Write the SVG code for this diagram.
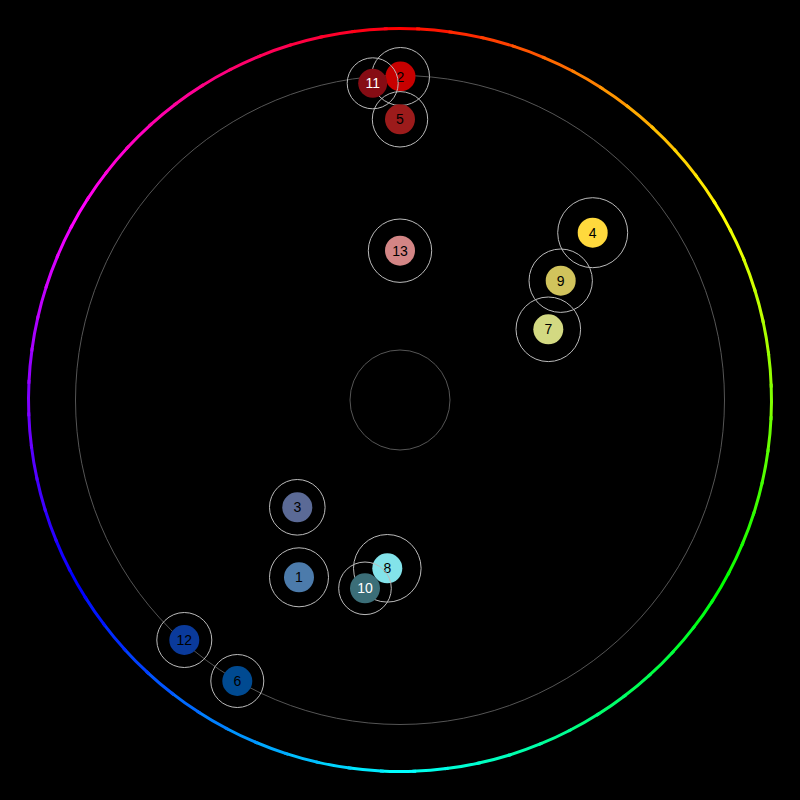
<svg xmlns="http://www.w3.org/2000/svg" width="800" height="800" viewBox="0 0 800 800">
<style>
.seg{fill:none;stroke-width:3}
.ring{fill:none;stroke:#555;stroke-width:1}
.halo{fill:none;stroke:#bbb;stroke-width:1}
.lbl{font-family:"Liberation Sans",Arial,sans-serif;font-size:14px;text-anchor:middle;dominant-baseline:central;fill:#000}
.lw{fill:#fff}
</style>
<rect width="800" height="800" fill="#000"/>
<g id="hue-ring">
<circle class="seg" cx="400" cy="400" r="371.5" pathLength="360" stroke-dasharray="5.6 354.4" transform="rotate(-92.5 400 400)" stroke="hsl(0,100%,50%)"/>
<circle class="seg" cx="400" cy="400" r="371.5" pathLength="360" stroke-dasharray="5.6 354.4" transform="rotate(-87.5 400 400)" stroke="hsl(5,100%,50%)"/>
<circle class="seg" cx="400" cy="400" r="371.5" pathLength="360" stroke-dasharray="5.6 354.4" transform="rotate(-82.5 400 400)" stroke="hsl(10,100%,50%)"/>
<circle class="seg" cx="400" cy="400" r="371.5" pathLength="360" stroke-dasharray="5.6 354.4" transform="rotate(-77.5 400 400)" stroke="hsl(15,100%,50%)"/>
<circle class="seg" cx="400" cy="400" r="371.5" pathLength="360" stroke-dasharray="5.6 354.4" transform="rotate(-72.5 400 400)" stroke="hsl(20,100%,50%)"/>
<circle class="seg" cx="400" cy="400" r="371.5" pathLength="360" stroke-dasharray="5.6 354.4" transform="rotate(-67.5 400 400)" stroke="hsl(25,100%,50%)"/>
<circle class="seg" cx="400" cy="400" r="371.5" pathLength="360" stroke-dasharray="5.6 354.4" transform="rotate(-62.5 400 400)" stroke="hsl(30,100%,50%)"/>
<circle class="seg" cx="400" cy="400" r="371.5" pathLength="360" stroke-dasharray="5.6 354.4" transform="rotate(-57.5 400 400)" stroke="hsl(35,100%,50%)"/>
<circle class="seg" cx="400" cy="400" r="371.5" pathLength="360" stroke-dasharray="5.6 354.4" transform="rotate(-52.5 400 400)" stroke="hsl(40,100%,50%)"/>
<circle class="seg" cx="400" cy="400" r="371.5" pathLength="360" stroke-dasharray="5.6 354.4" transform="rotate(-47.5 400 400)" stroke="hsl(45,100%,50%)"/>
<circle class="seg" cx="400" cy="400" r="371.5" pathLength="360" stroke-dasharray="5.6 354.4" transform="rotate(-42.5 400 400)" stroke="hsl(50,100%,50%)"/>
<circle class="seg" cx="400" cy="400" r="371.5" pathLength="360" stroke-dasharray="5.6 354.4" transform="rotate(-37.5 400 400)" stroke="hsl(55,100%,50%)"/>
<circle class="seg" cx="400" cy="400" r="371.5" pathLength="360" stroke-dasharray="5.6 354.4" transform="rotate(-32.5 400 400)" stroke="hsl(60,100%,50%)"/>
<circle class="seg" cx="400" cy="400" r="371.5" pathLength="360" stroke-dasharray="5.6 354.4" transform="rotate(-27.5 400 400)" stroke="hsl(65,100%,50%)"/>
<circle class="seg" cx="400" cy="400" r="371.5" pathLength="360" stroke-dasharray="5.6 354.4" transform="rotate(-22.5 400 400)" stroke="hsl(70,100%,50%)"/>
<circle class="seg" cx="400" cy="400" r="371.5" pathLength="360" stroke-dasharray="5.6 354.4" transform="rotate(-17.5 400 400)" stroke="hsl(75,100%,50%)"/>
<circle class="seg" cx="400" cy="400" r="371.5" pathLength="360" stroke-dasharray="5.6 354.4" transform="rotate(-12.5 400 400)" stroke="hsl(80,100%,50%)"/>
<circle class="seg" cx="400" cy="400" r="371.5" pathLength="360" stroke-dasharray="5.6 354.4" transform="rotate(-7.5 400 400)" stroke="hsl(85,100%,50%)"/>
<circle class="seg" cx="400" cy="400" r="371.5" pathLength="360" stroke-dasharray="5.6 354.4" transform="rotate(-2.5 400 400)" stroke="hsl(90,100%,50%)"/>
<circle class="seg" cx="400" cy="400" r="371.5" pathLength="360" stroke-dasharray="5.6 354.4" transform="rotate(2.5 400 400)" stroke="hsl(95,100%,50%)"/>
<circle class="seg" cx="400" cy="400" r="371.5" pathLength="360" stroke-dasharray="5.6 354.4" transform="rotate(7.5 400 400)" stroke="hsl(100,100%,50%)"/>
<circle class="seg" cx="400" cy="400" r="371.5" pathLength="360" stroke-dasharray="5.6 354.4" transform="rotate(12.5 400 400)" stroke="hsl(105,100%,50%)"/>
<circle class="seg" cx="400" cy="400" r="371.5" pathLength="360" stroke-dasharray="5.6 354.4" transform="rotate(17.5 400 400)" stroke="hsl(110,100%,50%)"/>
<circle class="seg" cx="400" cy="400" r="371.5" pathLength="360" stroke-dasharray="5.6 354.4" transform="rotate(22.5 400 400)" stroke="hsl(115,100%,50%)"/>
<circle class="seg" cx="400" cy="400" r="371.5" pathLength="360" stroke-dasharray="5.6 354.4" transform="rotate(27.5 400 400)" stroke="hsl(120,100%,50%)"/>
<circle class="seg" cx="400" cy="400" r="371.5" pathLength="360" stroke-dasharray="5.6 354.4" transform="rotate(32.5 400 400)" stroke="hsl(125,100%,50%)"/>
<circle class="seg" cx="400" cy="400" r="371.5" pathLength="360" stroke-dasharray="5.6 354.4" transform="rotate(37.5 400 400)" stroke="hsl(130,100%,50%)"/>
<circle class="seg" cx="400" cy="400" r="371.5" pathLength="360" stroke-dasharray="5.6 354.4" transform="rotate(42.5 400 400)" stroke="hsl(135,100%,50%)"/>
<circle class="seg" cx="400" cy="400" r="371.5" pathLength="360" stroke-dasharray="5.6 354.4" transform="rotate(47.5 400 400)" stroke="hsl(140,100%,50%)"/>
<circle class="seg" cx="400" cy="400" r="371.5" pathLength="360" stroke-dasharray="5.6 354.4" transform="rotate(52.5 400 400)" stroke="hsl(145,100%,50%)"/>
<circle class="seg" cx="400" cy="400" r="371.5" pathLength="360" stroke-dasharray="5.6 354.4" transform="rotate(57.5 400 400)" stroke="hsl(150,100%,50%)"/>
<circle class="seg" cx="400" cy="400" r="371.5" pathLength="360" stroke-dasharray="5.6 354.4" transform="rotate(62.5 400 400)" stroke="hsl(155,100%,50%)"/>
<circle class="seg" cx="400" cy="400" r="371.5" pathLength="360" stroke-dasharray="5.6 354.4" transform="rotate(67.5 400 400)" stroke="hsl(160,100%,50%)"/>
<circle class="seg" cx="400" cy="400" r="371.5" pathLength="360" stroke-dasharray="5.6 354.4" transform="rotate(72.5 400 400)" stroke="hsl(165,100%,50%)"/>
<circle class="seg" cx="400" cy="400" r="371.5" pathLength="360" stroke-dasharray="5.6 354.4" transform="rotate(77.5 400 400)" stroke="hsl(170,100%,50%)"/>
<circle class="seg" cx="400" cy="400" r="371.5" pathLength="360" stroke-dasharray="5.6 354.4" transform="rotate(82.5 400 400)" stroke="hsl(175,100%,50%)"/>
<circle class="seg" cx="400" cy="400" r="371.5" pathLength="360" stroke-dasharray="5.6 354.4" transform="rotate(87.5 400 400)" stroke="hsl(180,100%,50%)"/>
<circle class="seg" cx="400" cy="400" r="371.5" pathLength="360" stroke-dasharray="5.6 354.4" transform="rotate(92.5 400 400)" stroke="hsl(185,100%,50%)"/>
<circle class="seg" cx="400" cy="400" r="371.5" pathLength="360" stroke-dasharray="5.6 354.4" transform="rotate(97.5 400 400)" stroke="hsl(190,100%,50%)"/>
<circle class="seg" cx="400" cy="400" r="371.5" pathLength="360" stroke-dasharray="5.6 354.4" transform="rotate(102.5 400 400)" stroke="hsl(195,100%,50%)"/>
<circle class="seg" cx="400" cy="400" r="371.5" pathLength="360" stroke-dasharray="5.6 354.4" transform="rotate(107.5 400 400)" stroke="hsl(200,100%,50%)"/>
<circle class="seg" cx="400" cy="400" r="371.5" pathLength="360" stroke-dasharray="5.6 354.4" transform="rotate(112.5 400 400)" stroke="hsl(205,100%,50%)"/>
<circle class="seg" cx="400" cy="400" r="371.5" pathLength="360" stroke-dasharray="5.6 354.4" transform="rotate(117.5 400 400)" stroke="hsl(210,100%,50%)"/>
<circle class="seg" cx="400" cy="400" r="371.5" pathLength="360" stroke-dasharray="5.6 354.4" transform="rotate(122.5 400 400)" stroke="hsl(215,100%,50%)"/>
<circle class="seg" cx="400" cy="400" r="371.5" pathLength="360" stroke-dasharray="5.6 354.4" transform="rotate(127.5 400 400)" stroke="hsl(220,100%,50%)"/>
<circle class="seg" cx="400" cy="400" r="371.5" pathLength="360" stroke-dasharray="5.6 354.4" transform="rotate(132.5 400 400)" stroke="hsl(225,100%,50%)"/>
<circle class="seg" cx="400" cy="400" r="371.5" pathLength="360" stroke-dasharray="5.6 354.4" transform="rotate(137.5 400 400)" stroke="hsl(230,100%,50%)"/>
<circle class="seg" cx="400" cy="400" r="371.5" pathLength="360" stroke-dasharray="5.6 354.4" transform="rotate(142.5 400 400)" stroke="hsl(235,100%,50%)"/>
<circle class="seg" cx="400" cy="400" r="371.5" pathLength="360" stroke-dasharray="5.6 354.4" transform="rotate(147.5 400 400)" stroke="hsl(240,100%,50%)"/>
<circle class="seg" cx="400" cy="400" r="371.5" pathLength="360" stroke-dasharray="5.6 354.4" transform="rotate(152.5 400 400)" stroke="hsl(245,100%,50%)"/>
<circle class="seg" cx="400" cy="400" r="371.5" pathLength="360" stroke-dasharray="5.6 354.4" transform="rotate(157.5 400 400)" stroke="hsl(250,100%,50%)"/>
<circle class="seg" cx="400" cy="400" r="371.5" pathLength="360" stroke-dasharray="5.6 354.4" transform="rotate(162.5 400 400)" stroke="hsl(255,100%,50%)"/>
<circle class="seg" cx="400" cy="400" r="371.5" pathLength="360" stroke-dasharray="5.6 354.4" transform="rotate(167.5 400 400)" stroke="hsl(260,100%,50%)"/>
<circle class="seg" cx="400" cy="400" r="371.5" pathLength="360" stroke-dasharray="5.6 354.4" transform="rotate(172.5 400 400)" stroke="hsl(265,100%,50%)"/>
<circle class="seg" cx="400" cy="400" r="371.5" pathLength="360" stroke-dasharray="5.6 354.4" transform="rotate(177.5 400 400)" stroke="hsl(270,100%,50%)"/>
<circle class="seg" cx="400" cy="400" r="371.5" pathLength="360" stroke-dasharray="5.6 354.4" transform="rotate(182.5 400 400)" stroke="hsl(275,100%,50%)"/>
<circle class="seg" cx="400" cy="400" r="371.5" pathLength="360" stroke-dasharray="5.6 354.4" transform="rotate(187.5 400 400)" stroke="hsl(280,100%,50%)"/>
<circle class="seg" cx="400" cy="400" r="371.5" pathLength="360" stroke-dasharray="5.6 354.4" transform="rotate(192.5 400 400)" stroke="hsl(285,100%,50%)"/>
<circle class="seg" cx="400" cy="400" r="371.5" pathLength="360" stroke-dasharray="5.6 354.4" transform="rotate(197.5 400 400)" stroke="hsl(290,100%,50%)"/>
<circle class="seg" cx="400" cy="400" r="371.5" pathLength="360" stroke-dasharray="5.6 354.4" transform="rotate(202.5 400 400)" stroke="hsl(295,100%,50%)"/>
<circle class="seg" cx="400" cy="400" r="371.5" pathLength="360" stroke-dasharray="5.6 354.4" transform="rotate(207.5 400 400)" stroke="hsl(300,100%,50%)"/>
<circle class="seg" cx="400" cy="400" r="371.5" pathLength="360" stroke-dasharray="5.6 354.4" transform="rotate(212.5 400 400)" stroke="hsl(305,100%,50%)"/>
<circle class="seg" cx="400" cy="400" r="371.5" pathLength="360" stroke-dasharray="5.6 354.4" transform="rotate(217.5 400 400)" stroke="hsl(310,100%,50%)"/>
<circle class="seg" cx="400" cy="400" r="371.5" pathLength="360" stroke-dasharray="5.6 354.4" transform="rotate(222.5 400 400)" stroke="hsl(315,100%,50%)"/>
<circle class="seg" cx="400" cy="400" r="371.5" pathLength="360" stroke-dasharray="5.6 354.4" transform="rotate(227.5 400 400)" stroke="hsl(320,100%,50%)"/>
<circle class="seg" cx="400" cy="400" r="371.5" pathLength="360" stroke-dasharray="5.6 354.4" transform="rotate(232.5 400 400)" stroke="hsl(325,100%,50%)"/>
<circle class="seg" cx="400" cy="400" r="371.5" pathLength="360" stroke-dasharray="5.6 354.4" transform="rotate(237.5 400 400)" stroke="hsl(330,100%,50%)"/>
<circle class="seg" cx="400" cy="400" r="371.5" pathLength="360" stroke-dasharray="5.6 354.4" transform="rotate(242.5 400 400)" stroke="hsl(335,100%,50%)"/>
<circle class="seg" cx="400" cy="400" r="371.5" pathLength="360" stroke-dasharray="5.6 354.4" transform="rotate(247.5 400 400)" stroke="hsl(340,100%,50%)"/>
<circle class="seg" cx="400" cy="400" r="371.5" pathLength="360" stroke-dasharray="5.6 354.4" transform="rotate(252.5 400 400)" stroke="hsl(345,100%,50%)"/>
<circle class="seg" cx="400" cy="400" r="371.5" pathLength="360" stroke-dasharray="5.6 354.4" transform="rotate(257.5 400 400)" stroke="hsl(350,100%,50%)"/>
<circle class="seg" cx="400" cy="400" r="371.5" pathLength="360" stroke-dasharray="5.6 354.4" transform="rotate(262.5 400 400)" stroke="hsl(355,100%,50%)"/>
</g>
<g id="guides">
<circle class="ring" cx="400" cy="400" r="324.5"/>
<circle class="ring" cx="400" cy="400" r="50"/>
</g>
<g id="connectors"></g>
<g id="node-1"><circle class="halo" cx="299" cy="577.3" r="29.5"/><circle cx="299" cy="577.3" r="15" fill="#4c7bab"/><text class="lbl" x="299" y="577.3">1</text></g>
<g id="node-2"><circle class="halo" cx="400.5" cy="76.5" r="29"/><circle cx="400.5" cy="76.5" r="15" fill="#c80000"/><text class="lbl" x="400.5" y="76.5">2</text></g>
<g id="node-3"><circle class="halo" cx="297.3" cy="507.3" r="27.8"/><circle cx="297.3" cy="507.3" r="15" fill="#5b6a96"/><text class="lbl" x="297.3" y="507.3">3</text></g>
<g id="node-4"><circle class="halo" cx="592.7" cy="232.7" r="35"/><circle cx="592.7" cy="232.7" r="15" fill="#ffd93d"/><text class="lbl" x="592.7" y="232.7">4</text></g>
<g id="node-5"><circle class="halo" cx="400" cy="119.3" r="27.7"/><circle cx="400" cy="119.3" r="15" fill="#9c1b1b"/><text class="lbl" x="400" y="119.3">5</text></g>
<g id="node-6"><circle class="halo" cx="237.3" cy="681" r="26.5"/><circle cx="237.3" cy="681" r="15" fill="#004a91"/><text class="lbl" x="237.3" y="681">6</text></g>
<g id="node-7"><circle class="halo" cx="548.3" cy="329.3" r="32.3"/><circle cx="548.3" cy="329.3" r="15" fill="#d3d982"/><text class="lbl" x="548.3" y="329.3">7</text></g>
<g id="node-8"><circle class="halo" cx="387.3" cy="568.3" r="33.8"/><circle cx="387.3" cy="568.3" r="15" fill="#83e3ea"/><text class="lbl" x="387.3" y="568.3">8</text></g>
<g id="node-9"><circle class="halo" cx="560.7" cy="280.7" r="31.7"/><circle cx="560.7" cy="280.7" r="15" fill="#d1c35c"/><text class="lbl" x="560.7" y="280.7">9</text></g>
<g id="node-10"><circle class="halo" cx="365" cy="588.3" r="26.3"/><circle cx="365" cy="588.3" r="15" fill="#3b6e78"/><text class="lbl lw" x="365" y="588.3">10</text></g>
<g id="node-11"><circle class="halo" cx="372.7" cy="83.3" r="25.5"/><circle cx="372.7" cy="83.3" r="14.5" fill="#860c14"/><text class="lbl lw" x="372.7" y="83.3">11</text></g>
<g id="node-12"><circle class="halo" cx="184.3" cy="640" r="27.5"/><circle cx="184.3" cy="640" r="15" fill="#0a3a9b"/><text class="lbl" x="184.3" y="640">12</text></g>
<g id="node-13"><circle class="halo" cx="400" cy="250.7" r="31.7"/><circle cx="400" cy="250.7" r="15" fill="#d38585"/><text class="lbl" x="400" y="250.7">13</text></g>
</svg>
